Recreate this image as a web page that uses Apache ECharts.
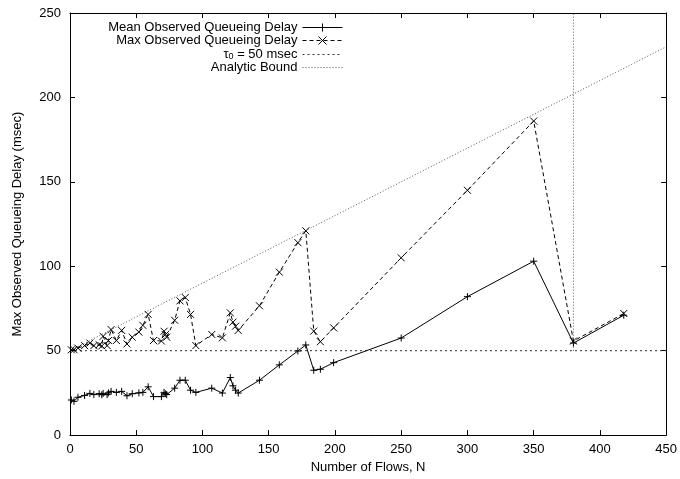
<!DOCTYPE html>
<html>
<head>
<meta charset="utf-8">
<script src="https://cdn.jsdelivr.net/npm/echarts@6/dist/echarts.min.js"></script>
<style>html,body{margin:0;padding:0;background:#fff}#c{width:680px;height:479px}</style>
</head>
<body>
<div id="c"></div>
<script>
// Data
const flowsN = [1,3,6,11,15,18,22,24,25,28,29,31,35,39,43,47,52,55,59,63,69,71,72,73,79,83,87,91,95,107,115,121,123,125,127,143,158,172,178,184,189,199,250,300,350,380,418];
const meanDelay = [20.8,20,22.4,23.5,24.7,24,24.5,23.9,24.7,24,25,25.9,25.3,25.9,23.3,24.5,25,25.3,28.6,22.8,22.8,25.3,24.5,24,27.8,32.5,32.5,26.6,25.3,27.8,24.9,34.1,29.2,26.6,24.9,32.5,41.6,49.8,53.4,38.4,39,42.9,57.5,82,103,54.5,71];
const maxDelay = [50.5,50.6,51.5,53,54.5,53,53.5,52.8,58.5,53,56,62.5,56,62,54,58,61,65,71.5,56,55.7,61.5,59.5,58,68,79.5,81.5,71.5,53,59.6,57.6,72.4,66.9,64.5,62,76.6,96.5,114,121,61.6,55.3,63.5,105,145,186,55.7,72];
const tauN = [0, 450];
const tauV = [50, 50];
const boundN = [0, 450];
const boundV = [50, 230];
const boundVertN = [380, 380];
const boundVertV = [50, 250];
const xTicks = [0,50,100,150,200,250,300,350,400,450];
const yTicks = [0,50,100,150,200,250];

const pair = (xs, ys) => xs.map((x, i) => [x, ys[i]]);
const boundData = pair(boundN, boundV).concat(['-']).concat(pair(boundVertN, boundVertV));

const FONT = 'Liberation Sans';
const plusSym = 'path://M0,5L10,5M5,0L5,10';
const crossSym = 'path://M0,0L10,10M10,0L0,10';

const chart = echarts.init(document.getElementById('c'), null, {renderer: 'canvas'});
const baseAxisX = {
  type: 'value', min: xTicks[0], max: xTicks[xTicks.length - 1], interval: 50,
  axisLine: {show: true, onZero: false, lineStyle: {color: '#000', width: 1}},
  axisTick: {show: true, inside: true, length: 5, lineStyle: {color: '#000'}},
  splitLine: {show: false}
};
const baseAxisY = {
  type: 'value', min: yTicks[0], max: yTicks[yTicks.length - 1], interval: 50,
  axisLine: {show: true, onZero: false, lineStyle: {color: '#000', width: 1}},
  axisTick: {show: true, inside: true, length: 5, lineStyle: {color: '#000'}},
  splitLine: {show: false}
};
const option = {
  animation: false,
  backgroundColor: '#fff',
  textStyle: {fontFamily: FONT},
  grid: {left: 70, right: 10, top: 13, bottom: 41, containLabel: false},
  legend: {
    orient: 'vertical', right: 332, top: 16, align: 'right', itemGap: 0,
    itemWidth: 40, itemHeight: 10, selectedMode: false,
    textStyle: {fontFamily: FONT, fontSize: 13, lineHeight: 13, color: '#000',
      rich: {sub: {fontSize: 9, lineHeight: 13, verticalAlign: 'bottom', padding: [5, 0, 0, 0], fontFamily: FONT, color: '#000'},
             t: {fontSize: 13, lineHeight: 13, fontFamily: FONT, color: '#000'}}},
    data: [
      {name: 'Mean Observed Queueing Delay', lineStyle: {width: 1}, itemStyle: {borderWidth: 1}},
      {name: 'Max Observed Queueing Delay', lineStyle: {width: 1}, itemStyle: {borderWidth: 1}},
      {name: 'tau', lineStyle: {width: 1}, itemStyle: {opacity: 0}},
      {name: 'Analytic Bound', lineStyle: {width: 1}, itemStyle: {opacity: 0}}
    ],
    formatter: n => n === 'tau' ? '{t|τ}{sub|0}{t| = 50 msec}' : n
  },
  xAxis: [
    Object.assign({}, baseAxisX, {
      position: 'bottom',
      name: 'Number of Flows, N', nameLocation: 'middle', nameGap: 24,
      nameTextStyle: {fontFamily: FONT, fontSize: 13, color: '#000'},
      axisLabel: {color: '#000', fontFamily: FONT, fontSize: 13, margin: 8}
    }),
    Object.assign({}, baseAxisX, {position: 'top', axisLabel: {show: false}})
  ],
  yAxis: [
    Object.assign({}, baseAxisY, {
      position: 'left',
      name: 'Max Observed Queueing Delay (msec)', nameLocation: 'middle', nameGap: 46,
      nameTextStyle: {fontFamily: FONT, fontSize: 13, color: '#000'},
      axisLabel: {color: '#000', fontFamily: FONT, fontSize: 13, margin: 9}
    }),
    Object.assign({}, baseAxisY, {position: 'right', axisLabel: {show: false}})
  ],
  series: [
    {
      name: 'Mean Observed Queueing Delay', type: 'line', data: pair(flowsN, meanDelay),
      symbol: plusSym, symbolSize: 7, showAllSymbol: true,
      lineStyle: {color: '#000', width: 1, type: 'solid'},
      itemStyle: {color: '#000', borderColor: '#000', borderWidth: 1},
      emphasis: {disabled: true}, z: 5
    },
    {
      name: 'Max Observed Queueing Delay', type: 'line', data: pair(flowsN, maxDelay),
      symbol: crossSym, symbolSize: 7, showAllSymbol: true,
      lineStyle: {color: '#000', width: 1, type: [4, 3]},
      itemStyle: {color: '#000', borderColor: '#000', borderWidth: 1},
      emphasis: {disabled: true}, z: 5
    },
    {
      name: 'tau', type: 'line', data: pair(tauN, tauV), symbol: 'none',
      lineStyle: {color: '#333', width: 1, type: [2, 3]},
      itemStyle: {color: '#333'},
      emphasis: {disabled: true}, z: 3
    },
    {
      name: 'Analytic Bound', type: 'line', data: boundData, symbol: 'none', connectNulls: false,
      lineStyle: {color: '#555', width: 1, type: [1, 2]},
      itemStyle: {color: '#555'},
      emphasis: {disabled: true}, z: 3
    }
  ]
};
chart.setOption(option);
</script>
</body>
</html>
